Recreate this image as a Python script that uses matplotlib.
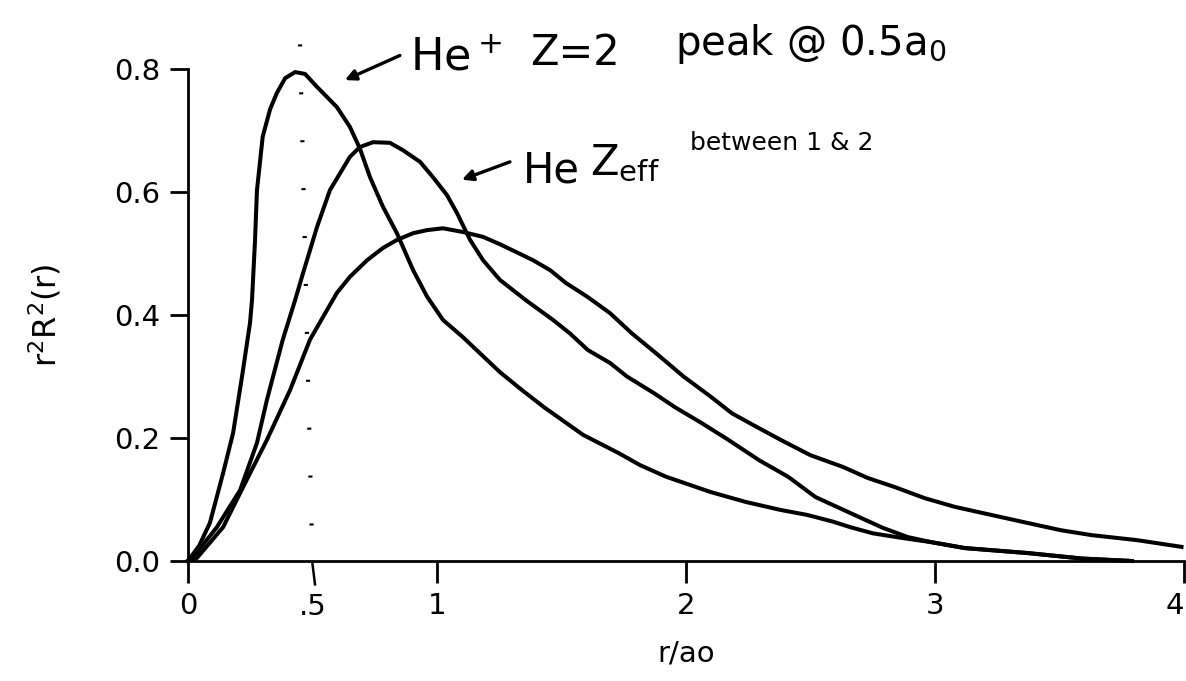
import numpy as np
import matplotlib
matplotlib.use("Agg")
import matplotlib.pyplot as plt

# values (r in units of a0)
# He+ (Z = 2), tall narrow curve
r_heplus = [0.0, 0.045, 0.088, 0.141, 0.181, 0.217, 0.249, 0.257, 0.269, 0.277,
            0.30, 0.33, 0.357, 0.39, 0.43, 0.47, 0.518, 0.598, 0.65, 0.69, 0.731,
            0.783, 0.839, 0.904, 0.96, 1.024, 1.104, 1.253, 1.341, 1.43, 1.587,
            1.727, 1.815, 1.92, 2.10, 2.24, 2.38, 2.486, 2.59, 2.66, 2.75, 2.875,
            2.98, 3.12, 3.37, 3.59, 3.79]
y_heplus = [0.0, 0.025, 0.062, 0.143, 0.208, 0.30, 0.387, 0.424, 0.52, 0.603,
            0.69, 0.735, 0.761, 0.785, 0.795, 0.792, 0.771, 0.738, 0.706, 0.671, 0.624,
            0.576, 0.533, 0.473, 0.43, 0.392, 0.364, 0.307, 0.278, 0.25, 0.205,
            0.176, 0.156, 0.137, 0.112, 0.096, 0.083, 0.075, 0.064, 0.055, 0.045, 0.037,
            0.031, 0.021, 0.013, 0.004, 0.0]

# He (Z_eff between 1 and 2), middle curve
r_he = [0.0, 0.02, 0.116, 0.209, 0.277, 0.317, 0.38, 0.43, 0.462, 0.518, 0.57,
        0.65, 0.69, 0.743, 0.811, 0.863, 0.932, 0.984, 1.04, 1.08, 1.133, 1.185,
        1.253, 1.357, 1.466, 1.534, 1.606, 1.695, 1.763, 1.871, 1.956, 2.064,
        2.17, 2.293, 2.41, 2.52, 2.66, 2.79, 2.89, 2.98, 3.12, 3.37, 3.59, 3.79]
y_he = [0.0, 0.006, 0.055, 0.115, 0.192, 0.262, 0.359, 0.424, 0.468, 0.543, 0.603,
        0.657, 0.673, 0.681, 0.68, 0.668, 0.649, 0.624, 0.595, 0.566, 0.522, 0.489,
        0.457, 0.424, 0.392, 0.37, 0.343, 0.322, 0.30, 0.273, 0.25, 0.224,
        0.197, 0.164, 0.137, 0.104, 0.078, 0.054, 0.039, 0.031, 0.021, 0.013, 0.004, 0.0]

# H (Z = 1), broad curve
r_h = [0.0, 0.036, 0.141, 0.221, 0.317, 0.41, 0.49, 0.598, 0.65, 0.719, 0.783,
       0.839, 0.904, 0.96, 1.024, 1.104, 1.185, 1.253, 1.32, 1.386, 1.454, 1.518,
       1.606, 1.695, 1.783, 1.888, 1.99, 2.10, 2.185, 2.293, 2.38, 2.50, 2.63,
       2.73, 2.84, 2.96, 3.08, 3.225, 3.37, 3.506, 3.63, 3.81, 3.99]
y_h = [0.0, 0.005, 0.055, 0.12, 0.197, 0.278, 0.36, 0.436, 0.462, 0.489, 0.509,
       0.522, 0.533, 0.538, 0.541, 0.535, 0.527, 0.515, 0.502, 0.489, 0.473, 0.452,
       0.429, 0.403, 0.37, 0.335, 0.30, 0.267, 0.24, 0.216, 0.197, 0.172, 0.153,
       0.135, 0.12, 0.102, 0.088, 0.075, 0.062, 0.05, 0.042, 0.034, 0.023]

x_ticks = [0, 1, 2, 3, 4]
y_ticks = [0.0, 0.2, 0.4, 0.6, 0.8]
y_tick_labels = ["0.0", "0.2", "0.4", "0.6", "0.8"]

plt.rcParams["font.family"] = ["DejaVu Sans"]

fig = plt.figure(figsize=(11.86, 6.81), dpi=100)
ax = fig.add_axes([188 / 1186, 120 / 681, 996 / 1186, 492 / 681])

lw = 2.9
for r, y in [(r_heplus, y_heplus), (r_he, y_he), (r_h, y_h)]:
    ax.plot(r, y, color="black", lw=lw, solid_joinstyle="round", clip_on=False)

# hand-drawn dotted marker at the He+ peak, running down to the ".5" mark
ax.plot([0.45, 0.50], [0.84, -0.005], color="black", lw=3,
        linestyle=(0, (0.5, 11)), clip_on=False)
ax.plot([0.50, 0.51], [-0.005, -0.038], color="black", lw=1.8, clip_on=False)

ax.set_xlim(0, 4)
ax.set_ylim(0, 0.8)
for s in ["top", "right"]:
    ax.spines[s].set_visible(False)
for s in ["left", "bottom"]:
    ax.spines[s].set_linewidth(2)

ax.set_xticks(x_ticks)
ax.set_xticklabels([str(t) for t in x_ticks])
ax.get_xticklabels()[-1].set_ha("right")
ax.set_yticks(y_ticks)
ax.set_yticklabels(y_tick_labels)
ax.tick_params(axis="x", direction="out", length=16, width=2, pad=6, labelsize=21)
ax.tick_params(axis="y", direction="out", length=13, width=2, pad=7, labelsize=21)

ax.text(0.5, -0.052, ".5", fontsize=21, ha="center", va="top")

ax.set_xlabel("r/ao", fontsize=21, labelpad=14)
ax.set_ylabel("r$^2$R$^2$(r)", fontsize=23, labelpad=36)

# handwritten notes
arrow = dict(arrowstyle="-|>", lw=2.4, color="black", mutation_scale=16,
             shrinkA=0, shrinkB=0)
ax.annotate("", xy=(0.63, 0.782), xytext=(0.851, 0.822), arrowprops=arrow,
            annotation_clip=False)
ax.text(0.892, 0.798, "He$^+$", fontsize=32, va="baseline", clip_on=False)
ax.text(1.373, 0.807, "Z=2", fontsize=30, va="baseline", clip_on=False)
ax.text(1.956, 0.823, "peak @ 0.5a$_\\mathregular{0}$", fontsize=29, va="baseline",
        clip_on=False)

ax.annotate("", xy=(1.10, 0.62), xytext=(1.293, 0.649), arrowprops=arrow,
            annotation_clip=False)
ax.text(1.345, 0.616, "He", fontsize=30, va="baseline", clip_on=False)
ax.text(1.614, 0.628, "Z$_\\mathregular{eff}$", fontsize=30, va="baseline",
        clip_on=False)
ax.text(2.016, 0.668, "between 1 & 2", fontsize=18, va="baseline", clip_on=False)

fig.savefig("out.png", dpi=100)
